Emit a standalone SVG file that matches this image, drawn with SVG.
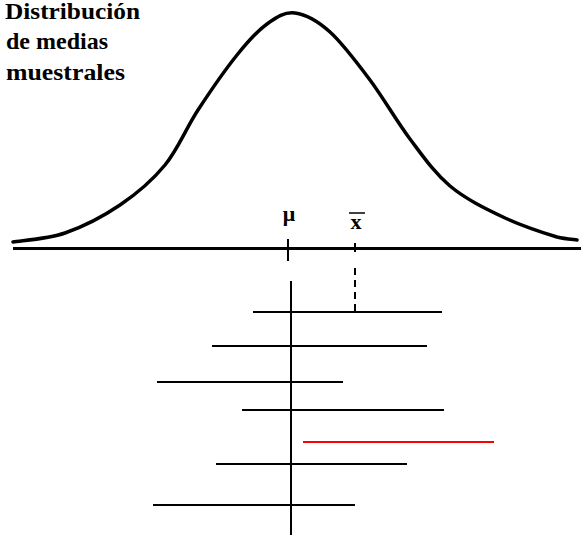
<svg xmlns="http://www.w3.org/2000/svg" width="581" height="537" viewBox="0 0 581 537">
<style>
.title{font-family:"Liberation Serif","DejaVu Serif",serif;font-weight:bold;font-size:23px;fill:#000}
.sym{font-family:"Liberation Serif","DejaVu Serif",serif;font-weight:bold;font-size:22px;fill:#000}
.ln{stroke:#000;stroke-width:2;fill:none}
.red{stroke:#ff0000;stroke-width:2;fill:none}
</style>
<rect width="581" height="537" fill="#fff"/>
<g id="title">
<text class="title" x="5" y="19" textLength="135" lengthAdjust="spacingAndGlyphs">Distribución</text>
<text class="title" x="6" y="49" textLength="102" lengthAdjust="spacingAndGlyphs">de medias</text>
<text class="title" x="6" y="80" textLength="119" lengthAdjust="spacingAndGlyphs">muestrales</text>
</g>
<g id="curve">
<path fill="none" stroke="#000" stroke-width="3.5" stroke-linecap="round" d="M13,242 C21.7,240.5 47.2,239.2 65,233 C82.8,226.8 103.3,216.3 120,205 C136.7,193.7 152,180.8 165,165 C178,149.2 186,128.3 198,110 C210,91.7 225.5,69.3 237,55 C248.5,40.7 257.3,31 267,24 C276.7,17 284.5,11.7 295,13 C305.5,14.3 317.5,20.8 330,32 C342.5,43.2 356.7,62.2 370,80 C383.3,97.8 396.7,121.3 410,139 C423.3,156.7 434.5,173 450,186 C465.5,199 485.2,208.5 503,217 C520.8,225.5 544.7,233.2 557,237 C565,239 573.7,239.5 577,240"/>
</g>
<g id="axis">
<line x1="13" y1="248.5" x2="581" y2="248.5" stroke="#000" stroke-width="3"/>
</g>
<g id="mu">
<line class="ln" x1="288" y1="239" x2="288" y2="261"/>
<text class="sym" x="289" y="221" text-anchor="middle">μ</text>
</g>
<g id="xbar">
<line class="ln" x1="355" y1="243" x2="355" y2="252"/>
<text class="sym" x="356" y="229" text-anchor="middle">x</text>
<line x1="349" y1="213" x2="365" y2="213" stroke="#000" stroke-width="1.5"/>
</g>
<g id="connectors">
<line class="ln" x1="355" y1="268" x2="355" y2="312" stroke-dasharray="7,5"/>
<line class="ln" x1="291" y1="281" x2="291" y2="535"/>
<line class="ln" x1="253" y1="312" x2="442" y2="312"/>
<line class="ln" x1="212" y1="346" x2="427" y2="346"/>
<line class="ln" x1="157" y1="382" x2="343" y2="382"/>
<line class="ln" x1="242" y1="410" x2="444" y2="410"/>
<line class="red" x1="303" y1="442" x2="494" y2="442"/>
<line class="ln" x1="216" y1="464" x2="407" y2="464"/>
<line class="ln" x1="153" y1="505" x2="355" y2="505"/>
</g>
</svg>
